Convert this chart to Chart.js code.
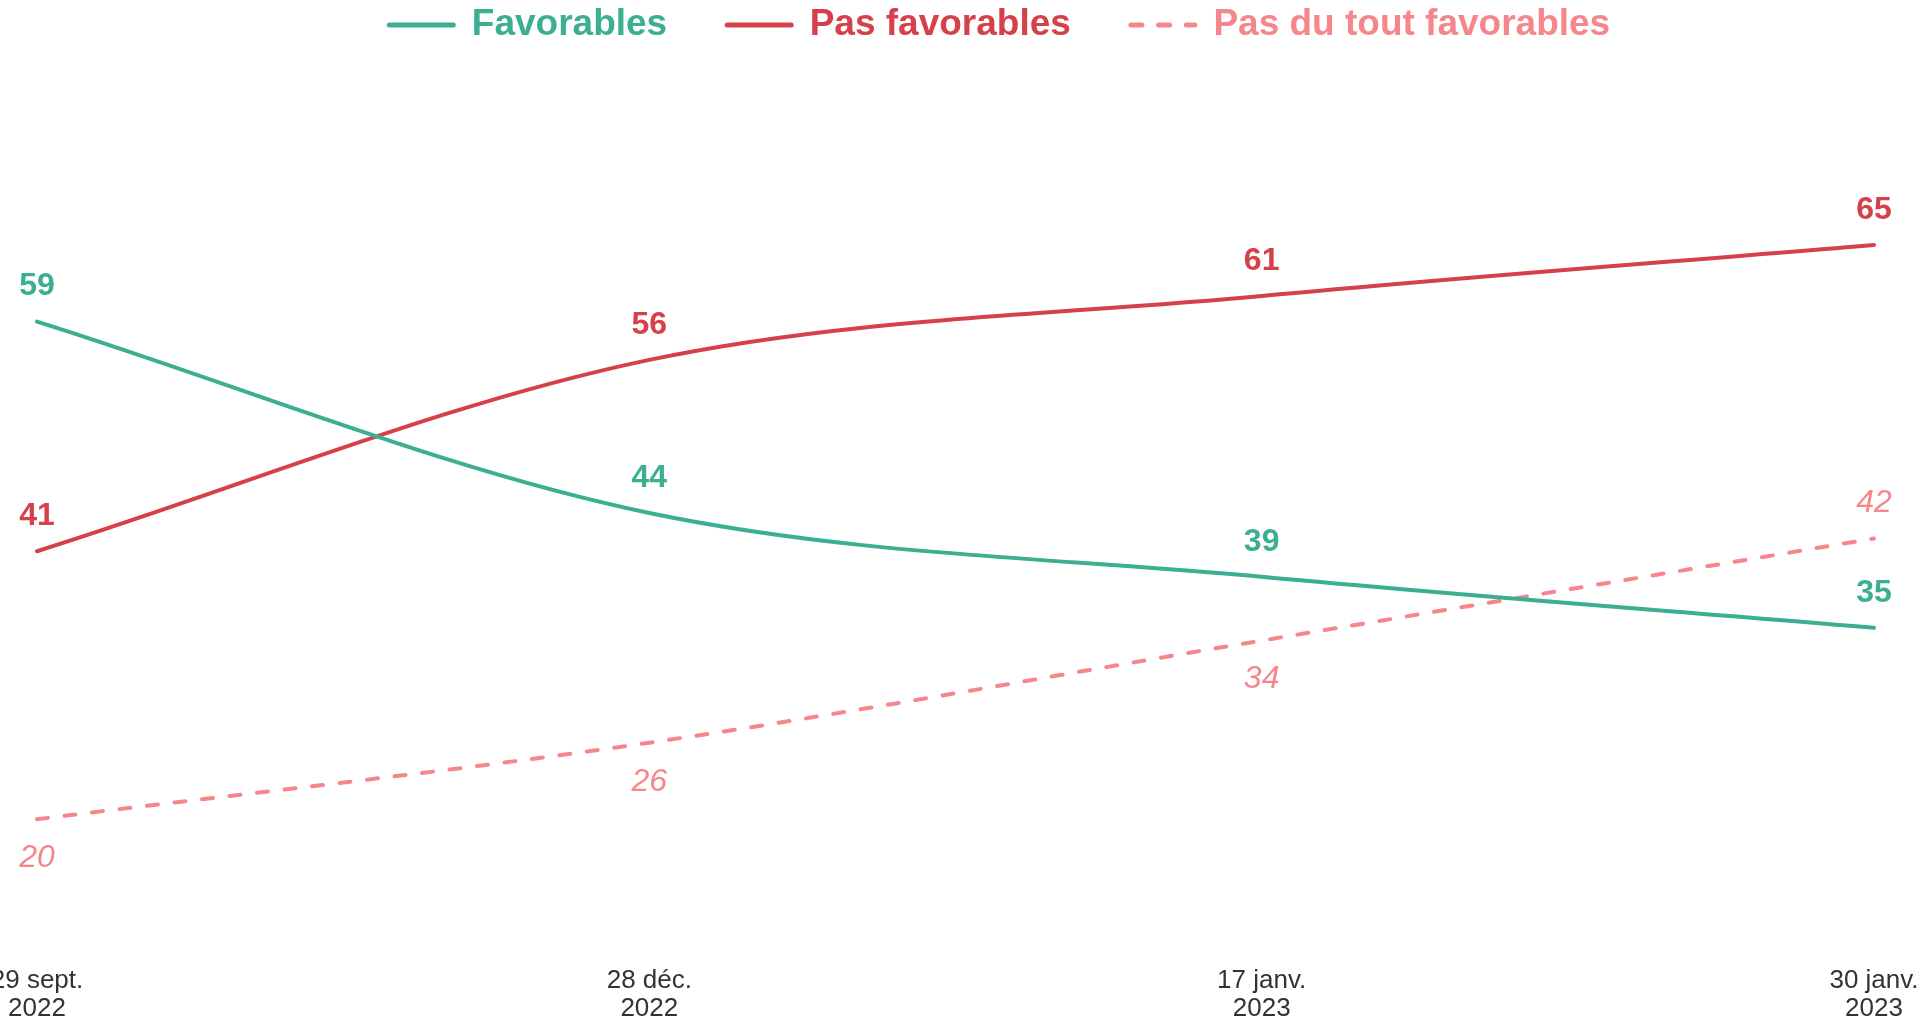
<!DOCTYPE html>
<html lang="fr">
<head>
<meta charset="utf-8">
<title>Favorables / Pas favorables</title>
<script src="https://cdn.jsdelivr.net/npm/chart.js@4.4.0/dist/chart.umd.min.js"></script>
<style>
  html, body { margin: 0; padding: 0; background: #ffffff; }
  #wrap { position: relative; width: 1929px; height: 1022px; }
</style>
</head>
<body>
<div id="wrap"><canvas id="chart"></canvas></div>
<script>
// ---- Data ----
const categories = [
  ['29 sept.', '2022'],
  ['28 déc.', '2022'],
  ['17 janv.', '2023'],
  ['30 janv.', '2023']
];
const seriesNames = ['Favorables', 'Pas favorables', 'Pas du tout favorables'];
const favorables = [59, 44, 39, 35];
const pasFavorables = [41, 56, 61, 65];
const pasDuToutFavorables = [20, 26, 34, 42];

// ---- Styles ----
const GREEN = '#3cae91';
const RED = '#d6404a';
const PINK = '#f5878c';
const FONT = "'Liberation Sans', Arial, Helvetica, sans-serif";

const valueLabels = {
  id: 'valueLabels',
  afterDatasetsDraw(chart) {
    const ctx = chart.ctx;
    chart.data.datasets.forEach((ds, i) => {
      const meta = chart.getDatasetMeta(i);
      if (meta.hidden) return;
      const cfg = ds.valueLabel;
      ctx.save();
      ctx.font = cfg.font;
      ctx.fillStyle = cfg.color;
      ctx.textAlign = 'center';
      ctx.textBaseline = 'middle';
      meta.data.forEach((pt, j) => {
        const below = cfg.placement[j] === 'below';
        const y = below ? pt.y + cfg.below : pt.y - cfg.above;
        ctx.fillText(String(ds.data[j]), pt.x, y);
      });
      ctx.restore();
    });
  }
};

const ctx = document.getElementById('chart').getContext('2d');
new Chart(ctx, {
  type: 'line',
  data: {
    labels: categories,
    datasets: [
      {
        label: seriesNames[0],
        data: favorables,
        borderColor: GREEN,
        backgroundColor: GREEN,
        borderWidth: 4,
        pointRadius: 0,
        cubicInterpolationMode: 'monotone',
        borderCapStyle: 'round',
        valueLabel: { font: 'bold 32px ' + FONT, color: GREEN, placement: ['above','above','above','above'], above: 35, below: 38 }
      },
      {
        label: seriesNames[1],
        data: pasFavorables,
        borderColor: RED,
        backgroundColor: RED,
        borderWidth: 4,
        pointRadius: 0,
        cubicInterpolationMode: 'monotone',
        borderCapStyle: 'round',
        valueLabel: { font: 'bold 32px ' + FONT, color: RED, placement: ['above','above','above','above'], above: 35, below: 38 }
      },
      {
        label: seriesNames[2],
        data: pasDuToutFavorables,
        borderColor: PINK,
        backgroundColor: PINK,
        borderWidth: 4,
        borderDash: [11, 16.7],
        borderCapStyle: 'round',
        pointRadius: 0,
        cubicInterpolationMode: 'monotone',
        valueLabel: { font: 'italic 32px ' + FONT, color: PINK, placement: ['below','below','below','above'], above: 35, below: 39 }
      }
    ]
  },
  options: {
    responsive: true,
    maintainAspectRatio: false,
    devicePixelRatio: 1,
    animation: false,
    layout: { padding: { left: 37, right: -33.5, top: -53.4, bottom: -21 } },
    scales: {
      x: {
        offset: false,
        grid: { display: false, drawTicks: false },
        border: { display: false },
        ticks: {
          color: '#333333',
          font: { family: FONT, size: 26, lineHeight: 1.08 },
          padding: 20,
          maxRotation: 0,
          autoSkip: false
        },
        afterFit(scale) { scale.paddingLeft = 0; scale.paddingRight = 0; }
      },
      y: {
        position: 'right',
        min: 10,
        max: 80,
        grid: { display: false, drawTicks: false },
        border: { display: false },
        ticks: { display: false },
        afterFit(scale) { scale.width = 88.5; }
      }
    },
    plugins: {
      tooltip: { enabled: false },
      legend: {
        position: 'top',
        align: 'center',
        labels: {
          usePointStyle: true,
          pointStyleWidth: 64,
          padding: 60,
          font: { family: FONT, size: 37, weight: 'bold' },
          generateLabels(chart) {
            return chart.data.datasets.map((ds, i) => ({
              text: ds.label,
              fontColor: ds.borderColor,
              fillStyle: ds.borderColor,
              strokeStyle: ds.borderColor,
              lineWidth: 5,
              lineDash: ds.borderDash || [],
              lineCap: 'round',
              pointStyle: 'line',
              hidden: false,
              datasetIndex: i
            }));
          }
        }
      }
    }
  },
  plugins: [valueLabels]
});
</script>
</body>
</html>
